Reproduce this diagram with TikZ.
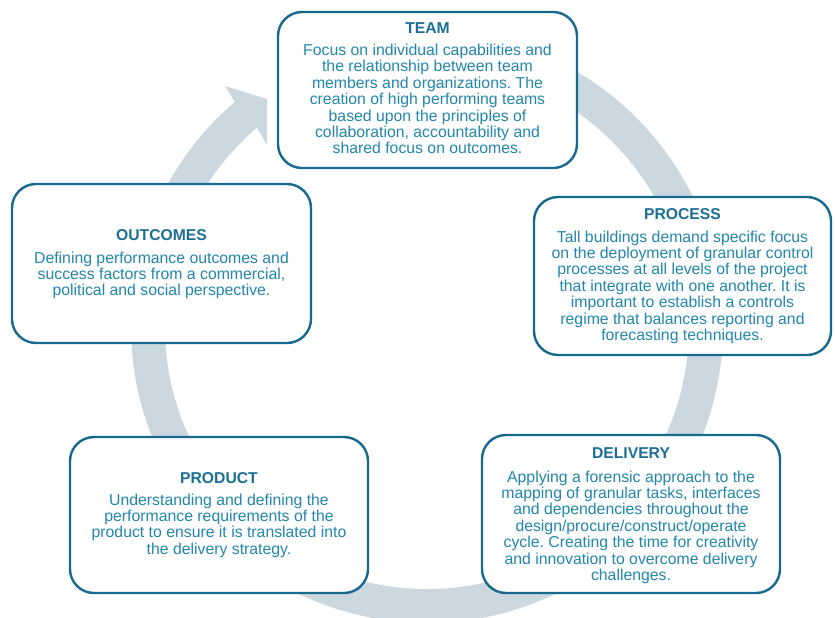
\documentclass[tikz,border=0pt]{standalone}
\usepackage{fontspec}
\setmainfont{Liberation Sans}
\frenchspacing
\definecolor{ringc}{HTML}{CCD8E0}
\definecolor{boxc}{HTML}{17698D}
\definecolor{titlec}{HTML}{1B6F95}
\definecolor{textc}{HTML}{2387AC}
\begin{document}
\begin{tikzpicture}[x=1pt,y=-1pt,
  card/.style={draw=boxc, line width=2.4pt, fill=white, rounded corners=24pt, inner sep=0pt},
  ttl/.style={anchor=base, inner sep=0pt, text=titlec, font=\fontsize{15.7}{16.4}\selectfont\bfseries},
  body/.style={anchor=base, inner sep=0pt, text=textc, align=center, font=\fontsize{15.8}{16.4}\selectfont\frenchspacing}]
\useasboundingbox (0,0) rectangle (835,618);
\coordinate (c) at (427,327);
% circular arrow
\draw[ringc, line width=34pt] (c) ++(-80:279) arc[start angle=-80, end angle=230.5, radius=279];
\fill[ringc] (234.8,101.9) -- (225,86) -- (267,99) -- (267,145) -- (256.9,127.8) -- cycle;
% boxes
\node[card, minimum width=299pt, minimum height=156pt] (team) at (427.5,90) {};
\node[card, minimum width=297pt, minimum height=158pt] (process) at (682.5,276) {};
\node[card, minimum width=298pt, minimum height=158pt] (delivery) at (631,514) {};
\node[card, minimum width=298pt, minimum height=156pt] (product) at (219,515) {};
\node[card, minimum width=299pt, minimum height=159pt] (outcomes) at (161.5,263.5) {};
% texts (body nodes anchored at the baseline of their last line)
\node[ttl] (team-t) at (427.5,34) {TEAM};
\node[body] (team-b) at (427.5,153.9) {Focus on individual capabilities and\\the relationship between team\\members and organizations. The\\creation of high performing teams\\based upon the principles of\\collaboration, accountability and\\shared focus on outcomes.};
\node[ttl] (process-t) at (682.5,219) {PROCESS};
\node[body] (process-b) at (682.5,340.4) {Tall buildings demand specific focus\\on the deployment of granular control\\processes at all levels of the project\\that integrate with one another. It is\\important to establish a controls\\regime that balances reporting and\\forecasting techniques.};
\node[ttl] (delivery-t) at (631,458) {DELIVERY};
\node[body] (delivery-b) at (631,580.4) {Applying a forensic approach to the\\mapping of granular tasks, interfaces\\and dependencies throughout the\\design/procure/construct/operate\\cycle. Creating the time for creativity\\and innovation to overcome delivery\\challenges.};
\node[ttl] (product-t) at (219,483) {PRODUCT};
\node[body] (product-b) at (219,554.2) {Understanding and defining the\\performance requirements of the\\product to ensure it is translated into\\the delivery strategy.};
\node[ttl] (outcomes-t) at (161.5,240) {OUTCOMES};
\node[body] (outcomes-b) at (161.5,295.8) {Defining performance outcomes and\\success factors from a commercial,\\political and social perspective.};
\end{tikzpicture}
\end{document}
